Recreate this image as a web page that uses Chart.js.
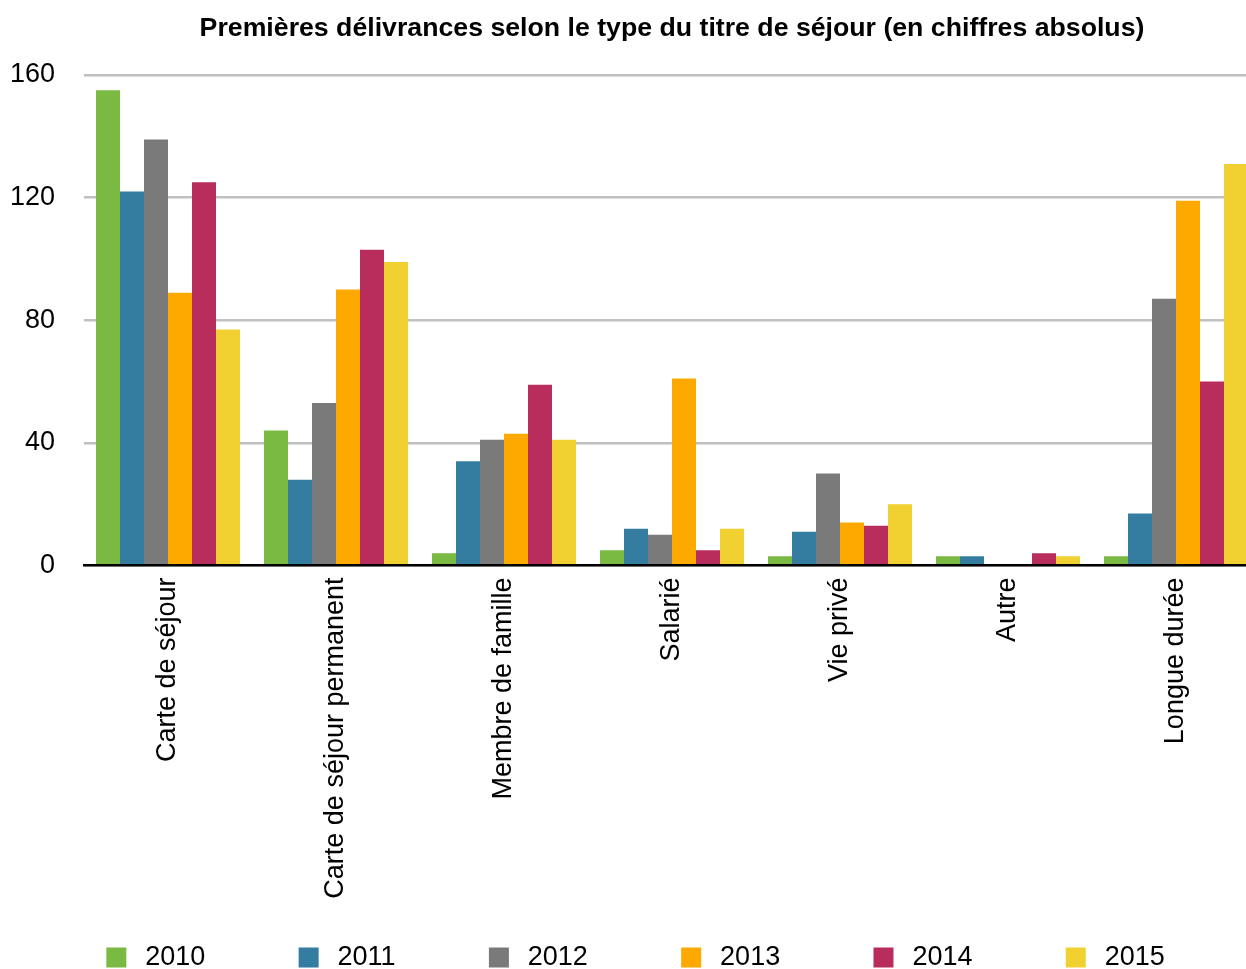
<!DOCTYPE html>
<html>
<head>
<meta charset="utf-8">
<script src="https://cdn.jsdelivr.net/npm/chart.js@4.4.1/dist/chart.umd.min.js"></script>
<style>
  html, body { margin: 0; padding: 0; overflow: hidden; background: #ffffff; width: 1246px; height: 969px; }
  #wrap { width: 1262px; height: 981px; position: absolute; left: 0; top: 0; }
</style>
</head>
<body>
<div id="wrap"><canvas id="c"></canvas></div>
<script>
const categories = ["Carte de séjour", "Carte de séjour permanent", "Membre de famille", "Salarié", "Vie privé", "Autre", "Longue durée"];
const years = ["2010", "2011", "2012", "2013", "2014", "2015"];
const v2010 = [155, 44, 4, 5, 3, 3, 3];
const v2011 = [122, 28, 34, 12, 11, 3, 17];
const v2012 = [139, 53, 41, 10, 30, 0, 87];
const v2013 = [89, 90, 43, 61, 14, 0.4, 119];
const v2014 = [125, 103, 59, 5, 13, 4, 60];
const v2015 = [77, 99, 41, 12, 20, 3, 131];
const yTicks = [0, 40, 80, 120, 160];
const titleText = "Premières délivrances selon le type du titre de séjour (en chiffres absolus)";

const colors = ["#7aba42", "#357da0", "#7a7a7a", "#fea900", "#b92d5c", "#f1d131"];
const series = [v2010, v2011, v2012, v2013, v2014, v2015];
const FONT = "'Liberation Sans', Arial, Helvetica, sans-serif";

Chart.defaults.font.family = FONT;
Chart.defaults.color = "#000000";

const datasets = years.map((y, i) => ({
  label: y,
  data: series[i],
  backgroundColor: colors[i],
  borderWidth: 0,
  categoryPercentage: 144 / 168,
  barPercentage: 1.0
}));

new Chart(document.getElementById("c"), {
  type: "bar",
  data: { labels: categories, datasets: datasets },
  options: {
    responsive: true,
    maintainAspectRatio: false,
    animation: false,
    layout: { padding: { left: 0, right: 2, top: 0, bottom: 0 } },
    plugins: {
      title: {
        display: true,
        text: titleText,
        fullSize: false,
        color: "#000000",
        font: { size: 26.7, weight: "bold", family: FONT, lineHeight: 1.2 },
        padding: { top: 13, bottom: 30 }
      },
      legend: {
        position: "bottom",
        fullSize: false,
        labels: {
          boxWidth: 20,
          boxHeight: 20,
          padding: 10.8,
          color: "#000000",
          font: { size: 27, family: FONT },
          generateLabels: (chart) => chart.data.datasets.map((ds, i, arr) => ({
            text: "\u2009" + ds.label + (i < arr.length - 1 ? "           " : "         \u2009"),
            fillStyle: ds.backgroundColor,
            strokeStyle: ds.backgroundColor,
            lineWidth: 0,
            hidden: false,
            datasetIndex: i
          }))
        }
      },
      tooltip: { enabled: false }
    },
    scales: {
      x: {
        grid: { display: false, drawTicks: false },
        border: { display: true, color: "#000000", width: 2.5, z: 1 },
        ticks: {
          autoSkip: false,
          maxRotation: 90,
          minRotation: 90,
          padding: 12,
          color: "#000000",
          font: { size: 27, family: FONT }
        },
        afterFit: (scale) => { scale.height = 367.7; }
      },
      y: {
        min: 0,
        max: 160,
        afterBuildTicks: (scale) => { scale.ticks = yTicks.map(v => ({ value: v })); },
        grid: { color: "#c0c0c0", lineWidth: 2.5, drawTicks: false },
        border: { display: false },
        ticks: {
          padding: 29,
          color: "#000000",
          font: { size: 27, family: FONT }
        },
        afterFit: (scale) => { scale.width = 84; }
      }
    }
  }
});
</script>
</body>
</html>
